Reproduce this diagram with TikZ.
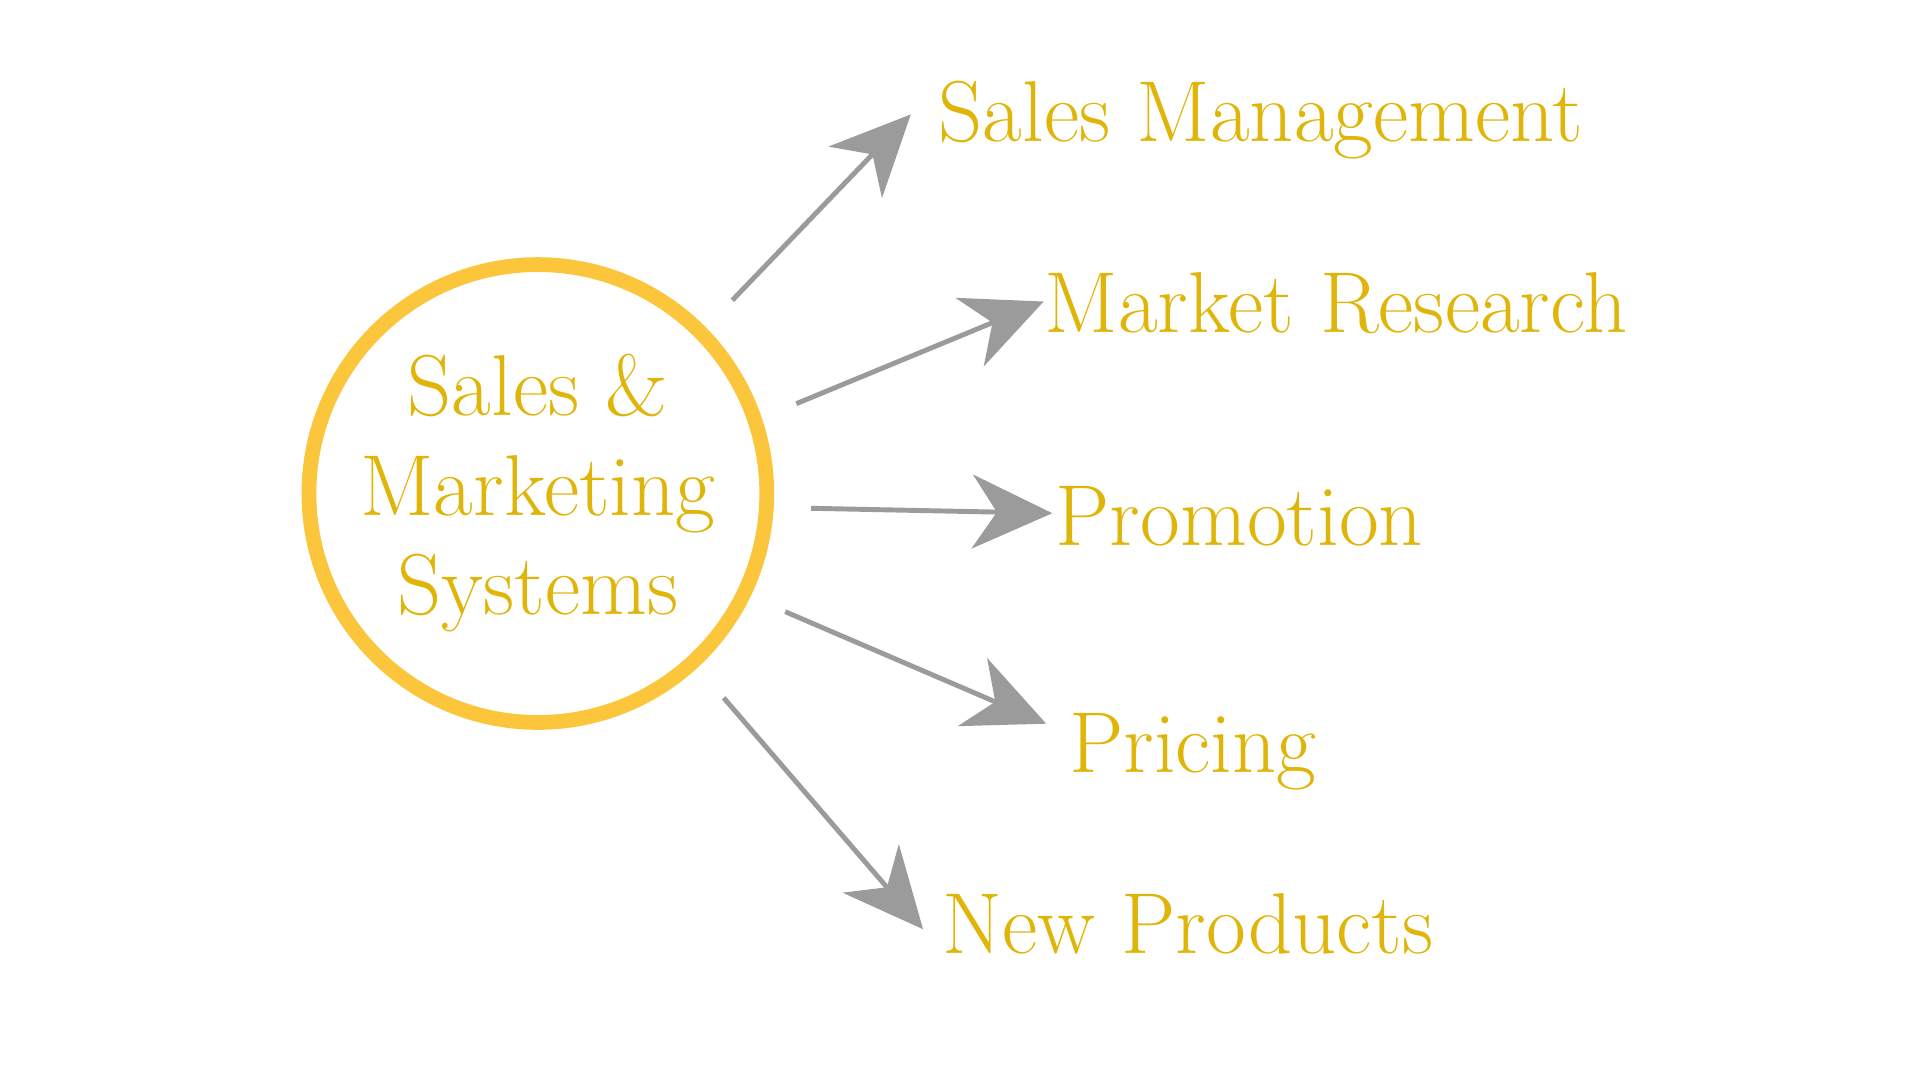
\documentclass[tikz,border=0pt]{standalone}
\usetikzlibrary{arrows.meta, positioning}
\definecolor{gold}{HTML}{E0B50A}
\definecolor{ring}{HTML}{FCC63C}
\definecolor{arrowgray}{HTML}{9B9B9B}
\begin{document}
\begin{tikzpicture}[
    hub/.style={circle, draw=ring, line width=0.12cm, minimum size=3.72cm, inner sep=0pt, align=center, text=gold, font=\fontsize{20}{23}\selectfont},
    item/.style={anchor=base west, text=gold, inner sep=0pt, font=\fontsize{20}{24}\selectfont},
    link/.style={-{Stealth[length=0.65cm, width=0.6cm, inset=0.2cm]}, draw=arrowgray, fill=arrowgray, line width=0.04cm}
]
\useasboundingbox (0,0) rectangle (15.6,8.78);

% centre
\node[hub] (sms) at (4.37,4.77) {Sales \&\\ Marketing\\ Systems};

% labels
\node[item] (mgmt) at (7.62,8.78-1.15) {Sales Management};
\node[item] (research) at (8.48,8.78-2.70) {Market Research};
\node[item] (promo) at (8.57,8.78-4.43) {Promotion};
\node[item] (price) at (8.68,8.78-6.28) {Pricing};
\node[item] (newprod) at (7.65,8.78-7.75) {New Products};

% arrow ends
\coordinate (s1) at (5.95,8.78-2.44); \coordinate (t1) at (7.40,8.78-0.93);
\coordinate (s2) at (6.47,8.78-3.28); \coordinate (t2) at (8.48,8.78-2.45);
\coordinate (s3) at (6.59,8.78-4.13); \coordinate (t3) at (8.55,8.78-4.17);
\coordinate (s4) at (6.38,8.78-4.97); \coordinate (t4) at (8.50,8.78-5.88);
\coordinate (s5) at (5.88,8.78-5.67); \coordinate (t5) at (7.50,8.78-7.55);

\draw[link] (s1) -- (t1);
\draw[link] (s2) -- (t2);
\draw[link] (s3) -- (t3);
\draw[link] (s4) -- (t4);
\draw[link] (s5) -- (t5);

\end{tikzpicture}
\end{document}
